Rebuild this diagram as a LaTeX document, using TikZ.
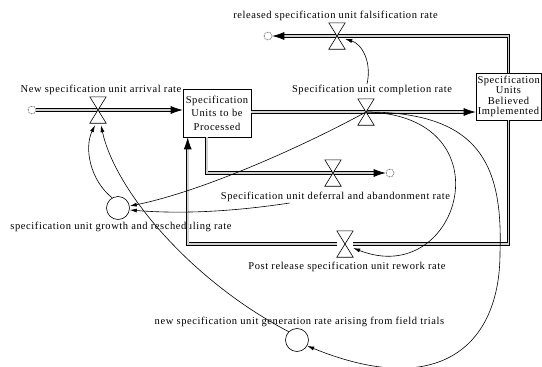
\documentclass[tikz,border=0pt]{standalone}
\usepackage{fontspec}
\setmainfont{Liberation Serif}[LetterSpace=5.5]
\usetikzlibrary{arrows.meta}
\begin{document}
\begin{tikzpicture}[x=1pt,y=-1pt,
  lbl/.style={inner sep=1pt, font=\fontsize{10.5}{12}\selectfont},
  stock1/.style={draw, line width=0.6pt, align=center, text width=64pt, inner xsep=2pt, inner ysep=1pt, minimum height=48pt, font=\fontsize{10.5}{13.5}\selectfont},
  stock2/.style={draw, line width=0.6pt, align=center, text width=62pt, inner xsep=1.5pt, inner ysep=1pt, minimum height=47pt, font=\fontsize{10.5}{10.5}\selectfont},
  valvebox/.style={minimum width=16pt, minimum height=26pt, inner sep=0pt},
  valveshape/.style={draw, fill=white, line width=0.6pt},
  cloudnode/.style={circle, draw, densely dotted, line width=0.6pt, minimum size=8pt, inner sep=0pt},
  aux/.style={circle, draw, line width=0.6pt, minimum size=23pt, inner sep=0pt},
  pipe/.style={draw=black, line width=0.75pt, double=gray!35, double distance=1.8pt, -{Latex[length=12pt,width=8pt]}},
  conn/.style={line width=0.6pt, -{Latex[length=7pt,width=4pt]}}
]
\useasboundingbox (0,0) rectangle (542,367);
% stocks
\node[stock1] (box1) at (217,113) {Specification\\Units to be\\Processed};
\node[stock2] (box2) at (508.5,96.5) {Specification\\Units\\Believed\\Implemented};
% clouds
\node[cloudnode] (c1) at (32,110) {};
\node[cloudnode] (c2) at (268,36) {};
\node[cloudnode] (c3) at (390,173) {};
% valves
\node[valvebox] (v1) at (98,110) {};
\node[valvebox] (v2) at (366,112) {};
\node[valvebox] (v3) at (337,36) {};
\node[valvebox] (v4) at (333,173) {};
\node[valvebox] (v5) at (345,244) {};
% auxiliaries
\node[aux] (g) at (118,208) {};
\node[aux] (n) at (297,340) {};
% labels
\node[lbl] (alab) at (101,90) {New specification unit arrival rate};
\node[lbl] (flab) at (335.5,16) {released specification unit falsification rate};
\node[lbl] (clab) at (372,90) {Specification unit completion rate};
\node[lbl] (dlab) at (335.5,197) {Specification unit deferral and abandonment rate};
\node[lbl] (rlab) at (347,267) {Post release specification unit rework rate};
\node[lbl] (glab) at (121,227) {specification unit growth and rescheduling rate};
\node[lbl] (nlab) at (299.5,322) {new specification unit generation rate arising from field trials};
% pipes
\draw[pipe] (c1.east) -- (v1 -| box1.west);
\draw[pipe] (v2 -| box1.east) -- (v2 -| box2.west);
\draw[pipe] (box2.north) |- (c2.east);
\draw[pipe] ([xshift=24pt]box1.south west) |- (c3.west);
\draw[pipe] (box2.south) |- (v5) -| ([xshift=5pt]box1.south west);
% connectors
\draw[conn] ([xshift=-5pt]clab.north) .. controls (372,62) and (362,44) .. ([yshift=-3pt]v3.east);
\draw[conn] (g.120) .. controls (90,180) and (84,148) .. ([xshift=-3pt,yshift=-2pt]v1.south);
\draw[conn] (n.135) .. controls (190,280) and (115,190) .. ([xshift=3pt,yshift=-2pt]v1.south);
\draw[conn] (v2.center) .. controls (300,148) and (200,192) .. ([yshift=2pt]g.east);
\draw[conn] ([xshift=70pt]dlab.south west) .. controls (230,212) and (180,214) .. ([yshift=-2pt]g.east);
\draw[conn] (v2.center) .. controls (510,115) and (460,290) .. ([yshift=-4pt]v5.east);
\draw[conn] (v2.center) .. controls (480,112) and (503,165) .. (500,253) .. controls (500,345) and (440,400) .. (n.-30);
% valve drawings
\foreach \v in {v1,v2,v3,v4,v5}
  \draw[valveshape] (\v.north west) -- (\v.north east) -- (\v.south west) -- (\v.south east) -- cycle;
\end{tikzpicture}
\end{document}
